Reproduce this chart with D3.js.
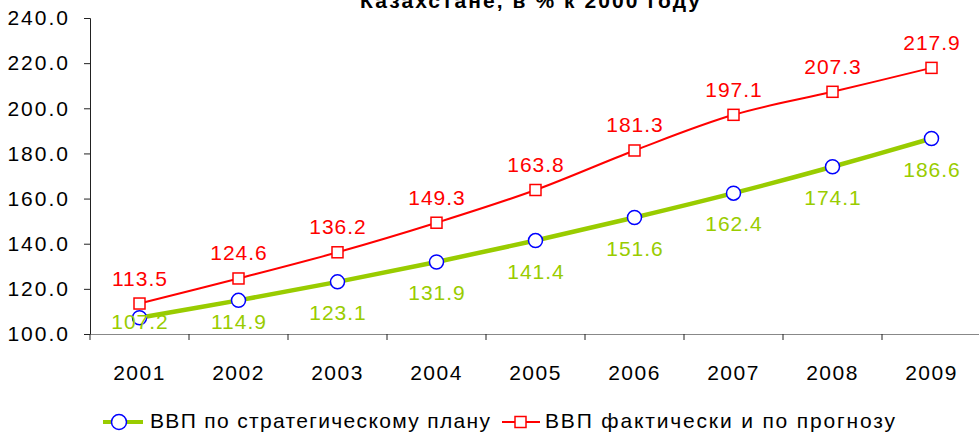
<!DOCTYPE html>
<html>
<head>
    <meta charset="utf-8">
    <script src="https://d3js.org/d3.v7.min.js"></script>
    <style>
        body { margin: 0; background: #fff; }
        text { font-family: Arial, "Liberation Sans", sans-serif; }
    </style>
</head>
<body>
<div id="chart"></div>
<script>
    const years = ["2001", "2002", "2003", "2004", "2005", "2006", "2007", "2008", "2009"];
    const planValues = [107.2, 114.9, 123.1, 131.9, 141.4, 151.6, 162.4, 174.1, 186.6];
    const factValues = [113.5, 124.6, 136.2, 149.3, 163.8, 181.3, 197.1, 207.3, 217.9];
    const yTicks = [100, 120, 140, 160, 180, 200, 220, 240];
    const titleText = "Казахстане, в % к 2000 году";
    const planName = "ВВП по стратегическому плану";
    const factName = "ВВП фактически и по прогнозу";

    const width = 979, height = 436;
    const margin = { top: 18, right: -2, bottom: 102, left: 90 };
    const innerH = height - margin.top - margin.bottom;

    const svg = d3.select("#chart").append("svg")
        .attr("width", width)
        .attr("height", height);

    // title (its first line is cut off in the original too)
    svg.append("text")
        .attr("x", 360).attr("y", 8)
        .attr("font-size", 21)
        .attr("font-weight", "bold")
        .attr("textLength", 340)
        .attr("lengthAdjust", "spacing")
        .text(titleText);

    const x = d3.scaleBand()
        .domain(years)
        .range([margin.left, width - margin.right]);
    const y = d3.scaleLinear()
        .domain([100, 240])
        .range([margin.top + innerH, margin.top]);

    // y axis
    const yAxis = svg.append("g")
        .attr("transform", `translate(${margin.left},0)`)
        .call(d3.axisLeft(y).tickValues(yTicks).tickFormat(d3.format(".1f")).tickSize(6).tickPadding(14));
    yAxis.select(".domain").attr("stroke", "#222");
    yAxis.selectAll(".tick line").attr("stroke", "#222");
    yAxis.selectAll("text")
        .attr("font-size", 21)
        .attr("letter-spacing", 2)
        .attr("fill", "#000");

    // x axis, ticks between categories
    const xAxis = svg.append("g")
        .attr("transform", `translate(0,${y(100)})`)
        .call(d3.axisBottom(x).tickSize(0).tickPadding(31));
    xAxis.select(".domain").attr("stroke", "#888");
    xAxis.selectAll("text")
        .attr("font-size", 21)
        .attr("letter-spacing", 1.5)
        .attr("fill", "#000");
    xAxis.selectAll(".sep")
        .data(years)
        .join("line")
        .attr("class", "sep")
        .attr("x1", d => x(d)).attr("x2", d => x(d))
        .attr("y1", 0).attr("y2", 6)
        .attr("stroke", "#222");

    const cx = (d, i) => x(years[i]) + x.bandwidth() / 2;

    const line = d3.line()
        .x(cx)
        .y(d => y(d))
        .curve(d3.curveCatmullRom.alpha(0.5));

    // plan series: green thick line, blue circles
    svg.append("path")
        .datum(planValues)
        .attr("fill", "none")
        .attr("stroke", "#99cc00")
        .attr("stroke-width", 4.5)
        .attr("d", line);

    // fact series: red line, red squares
    svg.append("path")
        .datum(factValues)
        .attr("fill", "none")
        .attr("stroke", "#ff0000")
        .attr("stroke-width", 2)
        .attr("d", line);

    svg.selectAll(".plan-pt")
        .data(planValues)
        .join("circle")
        .attr("class", "plan-pt")
        .attr("cx", cx)
        .attr("cy", d => y(d))
        .attr("r", 7)
        .attr("fill", "#fff")
        .attr("stroke", "#0000ff")
        .attr("stroke-width", 1.5);

    svg.selectAll(".fact-pt")
        .data(factValues)
        .join("rect")
        .attr("class", "fact-pt")
        .attr("x", (d, i) => cx(d, i) - 5.5)
        .attr("y", d => y(d) - 5.5)
        .attr("width", 11).attr("height", 11)
        .attr("fill", "#fff")
        .attr("stroke", "#ff0000")
        .attr("stroke-width", 1.5);

    // data labels: green below (kept inside the plot), red above
    svg.selectAll(".plan-lbl")
        .data(planValues)
        .join("text")
        .attr("class", "plan-lbl")
        .attr("x", (d, i) => cx(d, i) + 0.5)
        .attr("y", d => Math.min(y(d) + 38, y(100) - 5))
        .attr("text-anchor", "middle")
        .attr("font-size", 21)
        .attr("letter-spacing", 1)
        .attr("fill", "#99cc00")
        .text(d => d.toFixed(1));

    svg.selectAll(".fact-lbl")
        .data(factValues)
        .join("text")
        .attr("class", "fact-lbl")
        .attr("x", (d, i) => cx(d, i) + 0.5)
        .attr("y", d => y(d) - 18)
        .attr("text-anchor", "middle")
        .attr("font-size", 21)
        .attr("letter-spacing", 1)
        .attr("fill", "#ff0000")
        .text(d => d.toFixed(1));

    // legend
    const legend = svg.append("g").attr("transform", "translate(0,422)");

    legend.append("line")
        .attr("x1", 103).attr("x2", 143).attr("y1", 0).attr("y2", 0)
        .attr("stroke", "#99cc00").attr("stroke-width", 4);
    legend.append("circle")
        .attr("cx", 119).attr("cy", 0).attr("r", 7.5)
        .attr("fill", "#fff").attr("stroke", "#0000ff").attr("stroke-width", 1.5);
    legend.append("text")
        .attr("x", 150).attr("y", 6)
        .attr("font-size", 21)
        .attr("textLength", 340)
        .attr("lengthAdjust", "spacing")
        .text(planName);

    legend.append("line")
        .attr("x1", 502).attr("x2", 540).attr("y1", 0).attr("y2", 0)
        .attr("stroke", "#ff0000").attr("stroke-width", 2);
    legend.append("rect")
        .attr("x", 515).attr("y", -5.5).attr("width", 11).attr("height", 11)
        .attr("fill", "#fff").attr("stroke", "#ff0000").attr("stroke-width", 1.5);
    legend.append("text")
        .attr("x", 545).attr("y", 6)
        .attr("font-size", 21)
        .attr("textLength", 350)
        .attr("lengthAdjust", "spacing")
        .text(factName);
</script>
</body>
</html>
